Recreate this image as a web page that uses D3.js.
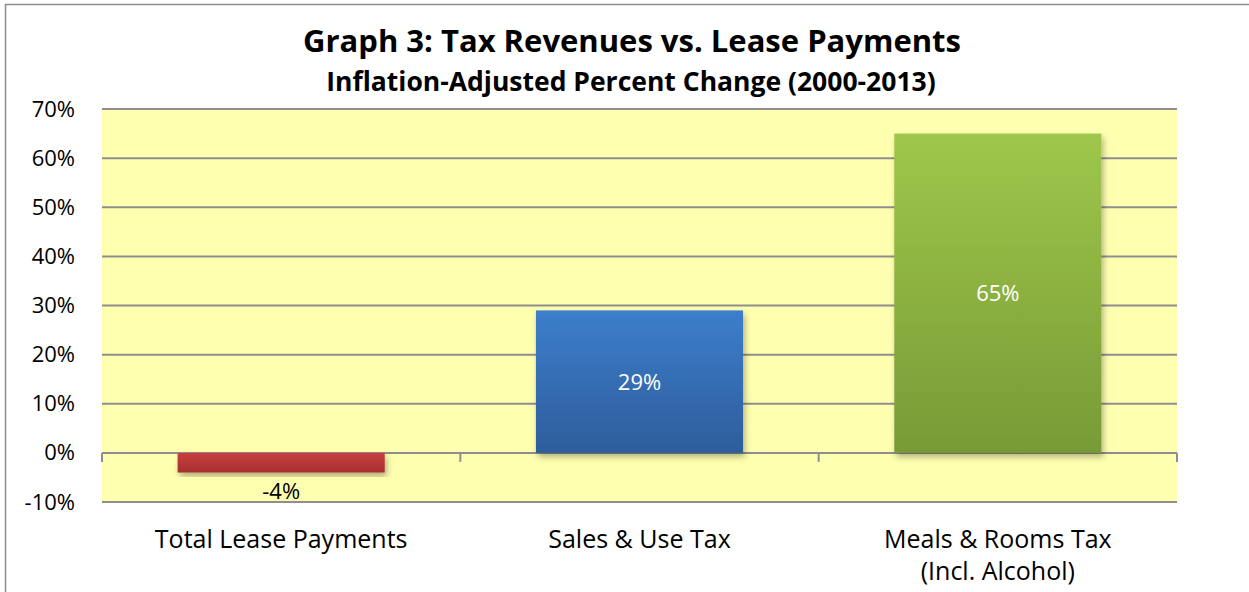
<!DOCTYPE html>
<html>
<head>
<meta charset="utf-8">
<script src="https://cdn.jsdelivr.net/npm/d3@7"></script>
<style>
  body { margin: 0; background: #fff; }
  svg text { font-family: "Open Sans", sans-serif; }
</style>
</head>
<body>
<div id="chart"></div>
<script>
// chart data
const categories = ['Total Lease Payments', 'Sales & Use Tax', 'Meals & Rooms Tax\n(Incl. Alcohol)'];
const values = [-0.04, 0.29, 0.65];
const yTicks = [-0.1, 0, 0.1, 0.2, 0.3, 0.4, 0.5, 0.6, 0.7];

const barColors = [['#c8403f', '#a52f2e'], ['#3c7ecb', '#2e5d9b'], ['#9fc74b', '#789a36']];

// percent with plain hyphen for negatives, as in the original
const pct = d => Math.round(d * 100) + '%';

let width = 1249, height = 592;
let margin = {top: 109, right: 72, bottom: 90, left: 102};
let innerW = width - margin.left - margin.right;
let innerH = height - margin.top - margin.bottom;

let svg = d3.select('#chart')
    .append('svg')
    .attr('width', width)
    .attr('height', height);

let defs = svg.append('defs');
barColors.forEach((c, i) => {
  let grad = defs.append('linearGradient')
      .attr('id', 'grad-' + i)
      .attr('x1', 0).attr('y1', 0).attr('x2', 0).attr('y2', 1);
  grad.append('stop').attr('offset', '0%').attr('stop-color', c[0]);
  grad.append('stop').attr('offset', '100%').attr('stop-color', c[1]);
});
let shadow = defs.append('filter').attr('id', 'shadow')
    .attr('x', '-10%').attr('y', '-10%').attr('width', '130%').attr('height', '130%');
shadow.append('feDropShadow')
    .attr('dx', 2).attr('dy', 4).attr('stdDeviation', 3)
    .attr('flood-color', '#000').attr('flood-opacity', 0.3);

// outer chart border
svg.append('rect')
    .attr('x', 5.5).attr('y', 4.5)
    .attr('width', width + 10).attr('height', height + 10)
    .attr('fill', 'none')
    .attr('stroke', '#8c8c8c')
    .attr('stroke-width', 1.5);

// titles
svg.append('text')
    .attr('x', 632).attr('y', 52)
    .attr('text-anchor', 'middle')
    .attr('font-size', '31px')
    .attr('font-weight', 'bold')
    .attr('fill', '#000')
    .text('Graph 3: Tax Revenues vs. Lease Payments');

svg.append('text')
    .attr('x', 631).attr('y', 91)
    .attr('text-anchor', 'middle')
    .attr('font-size', '26.5px')
    .attr('font-weight', 'bold')
    .attr('fill', '#000')
    .text('Inflation-Adjusted Percent Change (2000-2013)');

let g = svg.append('g')
    .attr('transform', 'translate(' + margin.left + ',' + margin.top + ')');

let y = d3.scaleLinear()
    .domain([d3.min(yTicks), d3.max(yTicks)])
    .range([innerH, 0]);

let x = d3.scaleBand()
    .domain(categories)
    .range([0, innerW])
    .padding(0);

// plot area background
g.append('rect')
    .attr('x', 0).attr('y', 0)
    .attr('width', innerW).attr('height', innerH)
    .attr('fill', '#ffffb0');

// gridlines
g.append('g')
    .selectAll('line')
    .data(yTicks)
    .enter()
    .append('line')
    .attr('x1', 0).attr('x2', innerW)
    .attr('y1', d => y(d)).attr('y2', d => y(d))
    .attr('stroke', '#8e8e8e')
    .attr('stroke-width', 2);

// y axis labels
let yAxis = d3.axisLeft(y)
    .tickValues(yTicks)
    .tickSize(0)
    .tickPadding(27)
    .tickFormat(pct);

g.append('g')
    .call(yAxis)
    .call(a => a.select('.domain').remove())
    .selectAll('text')
    .attr('font-size', '22px')
    .attr('fill', '#000')
    .style('font-family', '"Open Sans", sans-serif');

// category tick marks on the zero line
let boundaries = categories.map(c => x(c)).concat([innerW]);
g.append('g')
    .selectAll('line')
    .data(boundaries)
    .enter()
    .append('line')
    .attr('x1', d => d).attr('x2', d => d)
    .attr('y1', y(0)).attr('y2', y(0) + 9)
    .attr('stroke', '#8e8e8e')
    .attr('stroke-width', 2);

// bars
let barFrac = 0.578;
let barW = x.bandwidth() * barFrac;
let bars = g.selectAll('.bar')
    .data(categories)
    .enter()
    .append('g');

bars.append('rect')
    .attr('x', d => x(d) + (x.bandwidth() - barW) / 2)
    .attr('y', (d, i) => y(Math.max(0, values[i])))
    .attr('width', barW)
    .attr('height', (d, i) => Math.abs(y(values[i]) - y(0)))
    .attr('fill', (d, i) => 'url(#grad-' + i + ')')
    .attr('filter', 'url(#shadow)');

bars.append('text')
    .attr('x', d => x(d) + x.bandwidth() / 2)
    .attr('y', (d, i) => values[i] >= 0
        ? (y(values[i]) + y(0)) / 2 + 8
        : y(values[i]) + 26)
    .attr('text-anchor', 'middle')
    .attr('font-size', '22px')
    .attr('fill', (d, i) => values[i] >= 0 ? '#fff' : '#000')
    .text((d, i) => pct(values[i]));

// category labels
let catLabels = g.append('g')
    .selectAll('text')
    .data(categories)
    .enter()
    .append('text')
    .attr('x', d => x(d) + x.bandwidth() / 2)
    .attr('y', innerH + 46)
    .attr('text-anchor', 'middle')
    .attr('font-size', '25px')
    .attr('fill', '#000');

catLabels.each(function(d) {
  let lines = d.split('\n');
  let t = d3.select(this);
  lines.forEach((l, i) => {
    t.append('tspan')
        .attr('x', x(d) + x.bandwidth() / 2)
        .attr('dy', i === 0 ? 0 : 32)
        .text(l);
  });
});
</script>
</body>
</html>
